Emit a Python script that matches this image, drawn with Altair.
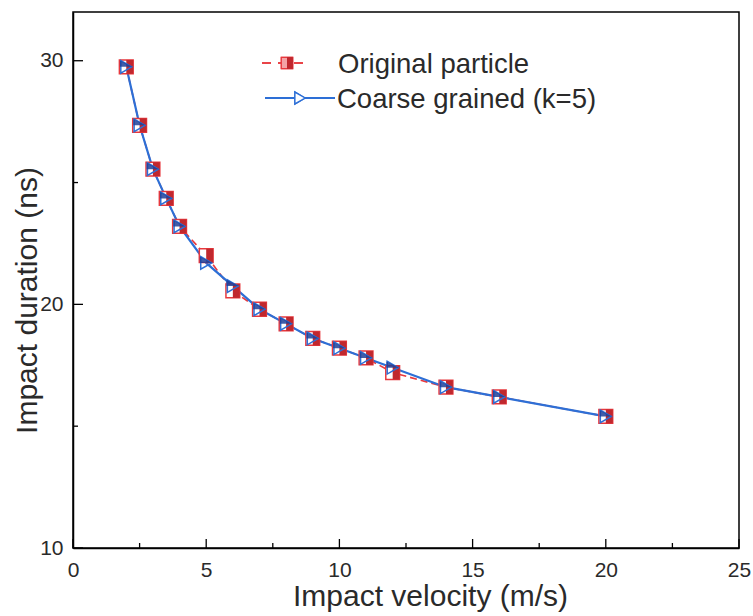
import altair as alt
import pandas as pd

# ---- data ----
velocity = [2, 2.5, 3, 3.5, 4, 5, 6, 7, 8, 9, 10, 11, 12, 14, 16, 20]
original = [29.75, 27.35, 25.55, 24.35, 23.2, 22.0, 20.55, 19.8, 19.2, 18.6, 18.2, 17.8, 17.2, 16.6, 16.2, 15.4]
coarse = [29.75, 27.35, 25.55, 24.35, 23.2, 21.7, 20.75, 19.8, 19.2, 18.6, 18.2, 17.8, 17.4, 16.6, 16.2, 15.4]

x_major = [0, 5, 10, 15, 20, 25]
x_minor = [2.5, 7.5, 12.5, 17.5, 22.5]
y_major = [10, 20, 30]
y_minor = [15, 25]

series_names = ["Original particle", "Coarse grained (k=5)"]

RED = "#e8383d"
BLUE = "#2d6fd6"
FONT = "Liberation Sans"
TXT = "#2a2a2a"

W, H = 666, 536

df = pd.DataFrame({"v": velocity, "orig": original, "coarse": coarse})

xs = alt.Scale(domain=[0, 25], nice=False, zero=False)
ys = alt.Scale(domain=[10, 32], nice=False, zero=False)

xaxis = alt.Axis(values=x_major, ticks=False, labelFontSize=21, labelPadding=11,
                 titleFontSize=30, titleFontWeight="normal",
                 titleX=357, titleY=57, titleAlign="center", titleBaseline="alphabetic",
                 domainColor="black", domainWidth=1.5, labelColor=TXT, titleColor=TXT,
                 grid=False, labelFont=FONT, titleFont=FONT, labelFlush=False)
yaxis = alt.Axis(values=y_major, ticks=False, labelFontSize=21, labelPadding=10,
                 titleFontSize=30, titleFontWeight="normal",
                 titleX=-46, titleY=288, titleAlign="center", titleBaseline="middle",
                 titleAngle=270,
                 domainColor="black", domainWidth=1.5, labelColor=TXT, titleColor=TXT,
                 grid=False, labelFont=FONT, titleFont=FONT, labelFlush=False)

base = alt.Chart(df)

SQ = 190
TR = 160

red_line = base.mark_line(color=RED, strokeWidth=1.6, strokeDash=[7, 4]).encode(
    x=alt.X("v:Q", scale=xs, axis=xaxis, title="Impact velocity (m/s)"),
    y=alt.Y("orig:Q", scale=ys, axis=yaxis, title="Impact duration (ns)"),
)
red_sq = base.mark_point(shape="square", size=SQ, filled=True, fill="white",
                         stroke=RED, strokeWidth=1.5, opacity=1).encode(
    x=alt.X("v:Q", scale=xs), y=alt.Y("orig:Q", scale=ys))
red_half = base.mark_point(shape="M0,-1L1,-1L1,1L0,1Z", size=SQ, filled=True,
                           fill="#c0282e", strokeWidth=0, opacity=1).encode(
    x=alt.X("v:Q", scale=xs), y=alt.Y("orig:Q", scale=ys))

blue_line = base.mark_line(color=BLUE, strokeWidth=2.2).encode(
    x=alt.X("v:Q", scale=xs), y=alt.Y("coarse:Q", scale=ys))
blue_tri = base.mark_point(shape="triangle-right", size=TR, filled=False,
                           stroke=BLUE, strokeWidth=1.5, opacity=1).encode(
    x=alt.X("v:Q", scale=xs), y=alt.Y("coarse:Q", scale=ys))
blue_half = base.mark_point(shape="M-1,-1L-1,0L1,0Z", size=TR, filled=True,
                            fill="#1f3f99", strokeWidth=0, opacity=0.85).encode(
    x=alt.X("v:Q", scale=xs), y=alt.Y("coarse:Q", scale=ys))

# inward ticks
xt_major = alt.Chart(pd.DataFrame({"t": x_major})).mark_rule(color="black", strokeWidth=1.3).encode(
    x=alt.X("t:Q", scale=xs), y=alt.value(H), y2=alt.value(H - 9))
xt_minor = alt.Chart(pd.DataFrame({"t": x_minor})).mark_rule(color="black", strokeWidth=1.3).encode(
    x=alt.X("t:Q", scale=xs), y=alt.value(H), y2=alt.value(H - 5))
yt_major = alt.Chart(pd.DataFrame({"t": y_major})).mark_rule(color="black", strokeWidth=1.3).encode(
    y=alt.Y("t:Q", scale=ys), x=alt.value(0), x2=alt.value(10))
yt_minor = alt.Chart(pd.DataFrame({"t": y_minor})).mark_rule(color="black", strokeWidth=1.3).encode(
    y=alt.Y("t:Q", scale=ys), x=alt.value(0), x2=alt.value(5))

# manual legend
leg_df = pd.DataFrame({"name": series_names})
lg_red1 = alt.Chart(leg_df).mark_rule(color=RED, strokeWidth=1.6, strokeDash=[9, 7]).encode(
    x=alt.value(189), x2=alt.value(233), y=alt.value(51))
lg_red_sq = alt.Chart(leg_df).mark_point(shape="square", size=130, filled=True, fill="#f4a3a6",
                                         stroke=RED, strokeWidth=1.2, opacity=1).encode(
    x=alt.value(214), y=alt.value(51))
lg_red_half = alt.Chart(leg_df).mark_point(shape="M0,-1L1,-1L1,1L0,1Z", size=130, filled=True,
                                           fill="#c0282e", strokeWidth=0, opacity=1).encode(
    x=alt.value(214), y=alt.value(51))
lg_blue = alt.Chart(leg_df).mark_rule(color=BLUE, strokeWidth=2.2).encode(
    x=alt.value(192), x2=alt.value(262), y=alt.value(86))
lg_blue_tri = alt.Chart(leg_df).mark_point(shape="triangle-right", size=140, filled=True, fill="white",
                                           stroke=BLUE, strokeWidth=1.4, opacity=1).encode(
    x=alt.value(227), y=alt.value(86))
lg_t1 = alt.Chart(pd.DataFrame({"name": [series_names[0]]})).mark_text(
    align="left", baseline="middle", fontSize=27.5, font=FONT, color=TXT).encode(
    x=alt.value(265), y=alt.value(53), text="name:N")
lg_t2 = alt.Chart(pd.DataFrame({"name": [series_names[1]]})).mark_text(
    align="left", baseline="middle", fontSize=27.5, font=FONT, color=TXT).encode(
    x=alt.value(264), y=alt.value(88), text="name:N")

chart = alt.layer(
    red_line, blue_line, red_sq, red_half, blue_tri, blue_half,
    xt_major, xt_minor, yt_major, yt_minor,
    lg_red1, lg_red_sq, lg_red_half, lg_blue, lg_blue_tri, lg_t1, lg_t2,
).properties(
    width=W, height=H,
    autosize=alt.AutoSizeParams(type="none"),
    padding={"left": 73, "top": 12, "right": 14, "bottom": 68},
    background="white",
).configure_view(stroke="black", strokeWidth=1.5)

chart.save("out.html", embed_options={"renderer": "svg", "actions": False})
